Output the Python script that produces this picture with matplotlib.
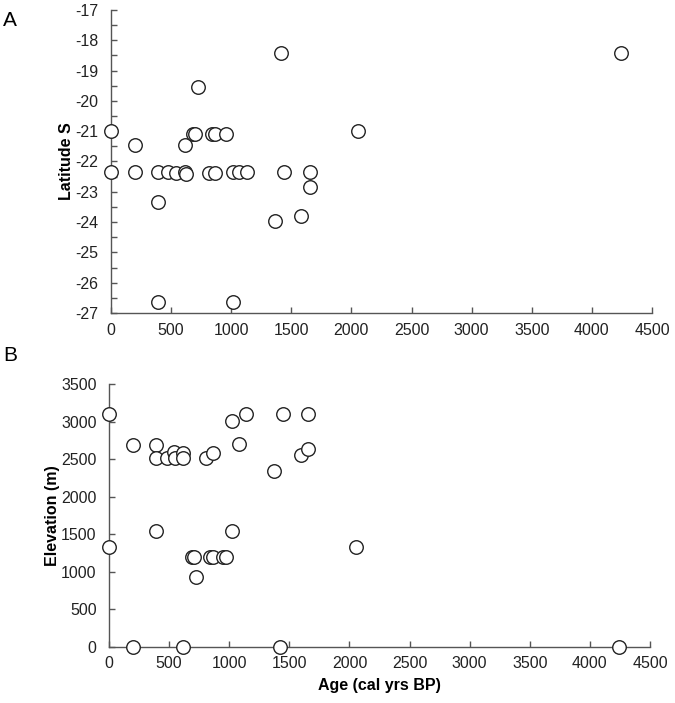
import matplotlib
matplotlib.use('Agg')
import matplotlib.pyplot as plt
from matplotlib.ticker import MultipleLocator

plt.rcParams['font.family'] = ['Liberation Sans', 'DejaVu Sans']
plt.rcParams['axes.unicode_minus'] = False

# panel A: age vs latitude
age_a = [0, 0, 204, 204, 389, 389, 389, 478, 541, 613, 621, 613, 680, 701, 721,
         812, 840, 862, 862, 956, 1016, 1016, 1069, 1132, 1367, 1417, 1436, 1583,
         1652, 1652, 2052, 4240]
lat_a = [-21.0, -22.35, -21.45, -22.35, -22.35, -23.34, -26.64, -22.35, -22.38,
         -22.35, -22.4, -21.45, -21.09, -21.09, -19.54, -22.38, -21.09, -21.09,
         -22.38, -21.09, -22.35, -26.64, -22.35, -22.35, -23.98, -18.41, -22.35,
         -23.81, -22.35, -22.84, -21.01, -18.42]

# panel B: age vs elevation
age_b = [0, 0, 203, 203, 394, 394, 394, 481, 544, 553, 619, 619, 619, 689, 708,
         725, 808, 864, 842, 861, 947, 969, 1022, 1022, 1078, 1136, 1375, 1425,
         1447, 1594, 1658, 1658, 2056, 4240]
elev_b = [3100, 1330, 2690, 0, 2690, 2515, 1540, 2515, 2595, 2515, 2585, 2515, 0,
          1190, 1190, 935, 2515, 2585, 1190, 1190, 1190, 1190, 3015, 1540, 2705,
          3100, 2350, 0, 3100, 2560, 3100, 2635, 1330, 0]

fig = plt.figure(figsize=(6.75, 7.03), dpi=100)
ax1 = fig.add_axes([0.1644, 0.5548, 0.8015, 0.431])
ax2 = fig.add_axes([0.1615, 0.0801, 0.8015, 0.3732])

spine_col = '#555555'
fs = 11.5
for ax in (ax1, ax2):
    for s in ('top', 'right'):
        ax.spines[s].set_visible(False)
    for s in ('left', 'bottom'):
        ax.spines[s].set_color(spine_col)
        ax.spines[s].set_linewidth(1.0)
    ax.tick_params(which='both', direction='in', length=4, width=1,
                   color=spine_col, labelsize=fs, labelcolor='#222222')
    ax.tick_params(axis='x', pad=7)
    ax.tick_params(axis='y', pad=9)
    ax.set_xlim(0, 4500)
    ax.xaxis.set_major_locator(MultipleLocator(500))

ax1.scatter(age_a, lat_a, s=95, facecolor='white', edgecolor='#222222',
            linewidth=1.0, clip_on=False, zorder=3)
ax1.set_ylim(-27, -17)
ax1.yaxis.set_major_locator(MultipleLocator(1))
ax1.yaxis.set_minor_locator(MultipleLocator(0.5))
ax1.set_ylabel('Latitude S', fontsize=fs, fontweight='bold', labelpad=1)

ax2.scatter(age_b, elev_b, s=95, facecolor='white', edgecolor='#222222',
            linewidth=1.0, clip_on=False, zorder=3)
ax2.set_ylim(0, 3500)
ax2.yaxis.set_major_locator(MultipleLocator(500))
ax2.set_ylabel('Elevation (m)', fontsize=fs, fontweight='bold', labelpad=1)
ax2.set_xlabel('Age (cal yrs BP)', fontsize=fs, fontweight='bold', labelpad=5)

fig.text(0.005, 0.985, 'A', fontsize=15, va='top', ha='left')
fig.text(0.005, 0.508, 'B', fontsize=15, va='top', ha='left')

fig.savefig('out.png', dpi=100)
